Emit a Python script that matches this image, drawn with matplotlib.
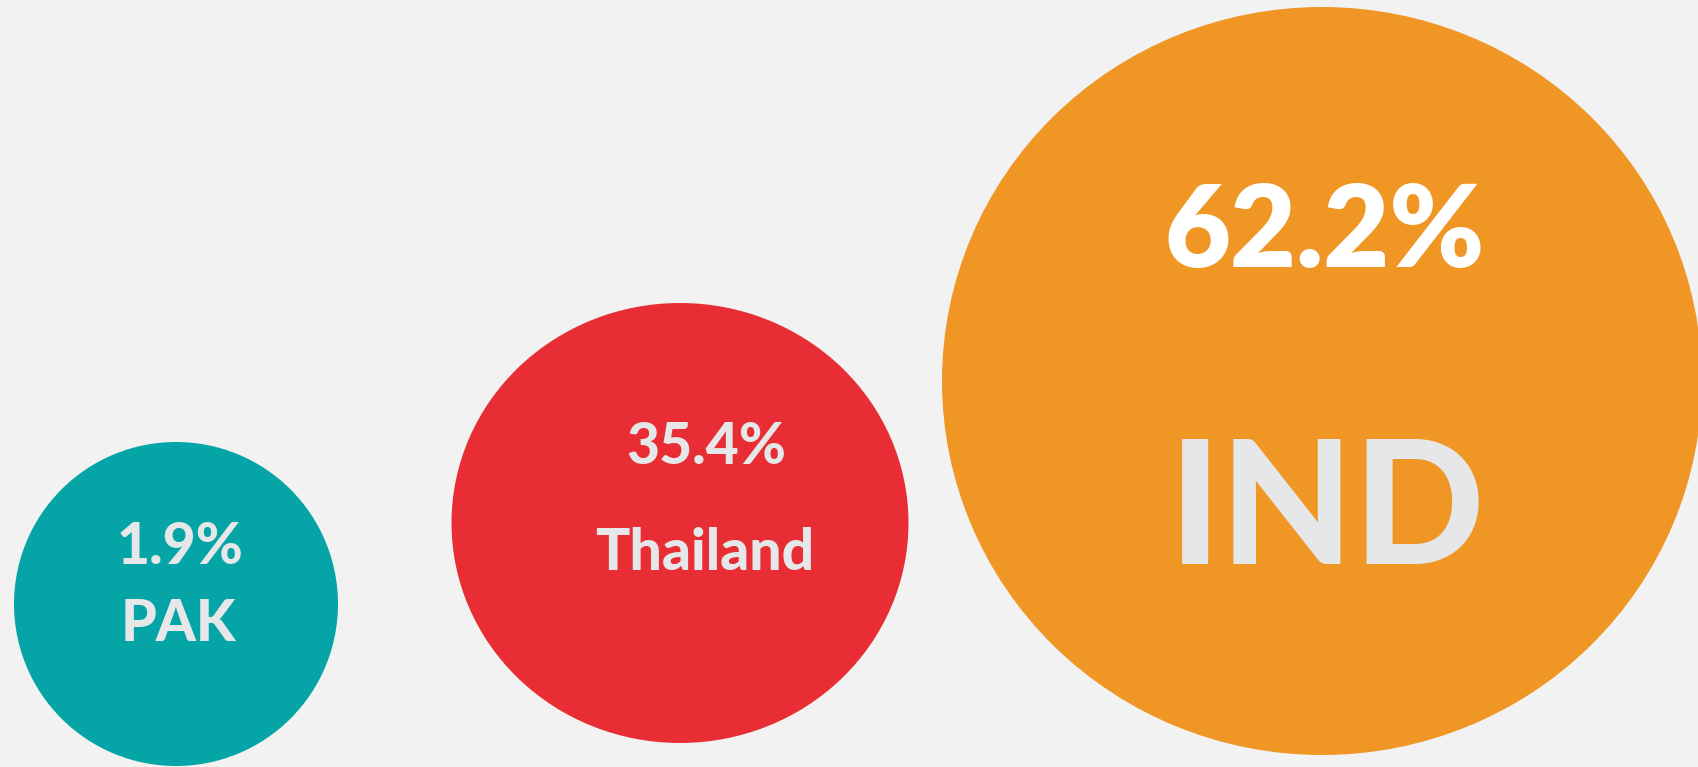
import matplotlib.pyplot as plt
from matplotlib.patches import Ellipse

countries = ["PAK", "Thailand", "IND"]
shares = [1.9, 35.4, 62.2]

# layout in pixels (figure is 1698 x 767, y grows downwards)
centers = [(176, 604), (680, 523), (1322, 381)]
widths = [324, 457, 760]
heights = [324, 440, 748]
colors = ["#05A4A6", "#E82E34", "#EF9625"]

pct_x = [180, 706, 1325]
pct_y = [564, 464, 267]
pct_size = [41, 41, 82]
pct_weight = ["black", "black", "heavy"]
pct_color = ["#E6E7E8", "#E6E7E8", "#FFFFFF"]
name_x = [178, 705, 1327]
name_y = [641, 570, 564]
name_size = [41, 41, 124]

fig = plt.figure(figsize=(16.98, 7.67), dpi=100)
fig.patch.set_facecolor("#F2F2F2")
ax = fig.add_axes([0, 0, 1, 1])
ax.set_xlim(0, 1698)
ax.set_ylim(767, 0)
ax.axis("off")

for i in range(len(countries)):
    ax.add_patch(Ellipse(centers[i], widths[i], heights[i], color=colors[i], lw=0))
    ax.text(pct_x[i], pct_y[i], f"{shares[i]}%", ha="center", va="baseline",
            fontsize=pct_size[i], color=pct_color[i], fontweight=pct_weight[i], family="Lato")
    ax.text(name_x[i], name_y[i], countries[i], ha="center", va="baseline",
            fontsize=name_size[i], color="#E6E7E8", fontweight="black", family="Lato")

fig.savefig("out.png", dpi=100, facecolor=fig.get_facecolor())
